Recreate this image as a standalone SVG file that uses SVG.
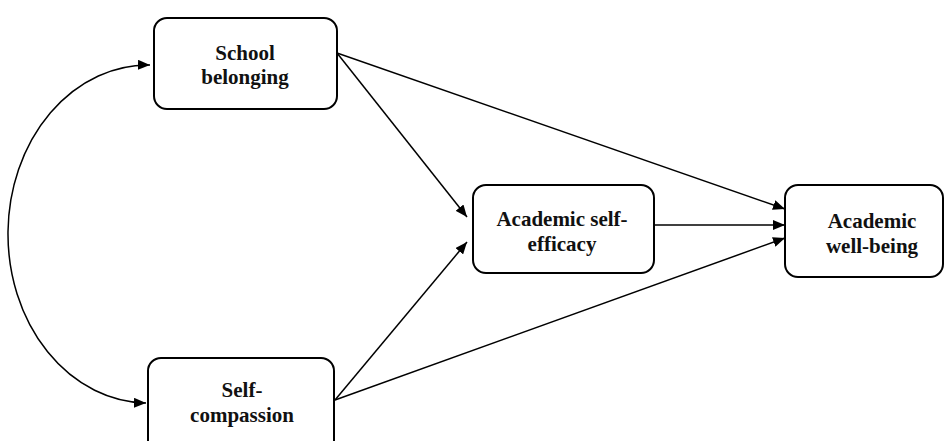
<svg xmlns="http://www.w3.org/2000/svg" width="947" height="441" viewBox="0 0 947 441">
<defs>
<marker id="ah" viewBox="0 0 12 10" refX="12" refY="5" markerWidth="12" markerHeight="10" markerUnits="userSpaceOnUse" orient="auto-start-reverse">
<path d="M0,0 L12,5 L0,10 z" fill="#000"/>
</marker>
<style>
.box{fill:#fff;stroke:#000;stroke-width:2}
.lbl{font-family:"Liberation Serif","Times New Roman",serif;font-weight:bold;font-size:21px;text-anchor:middle;fill:#111}
.edge{fill:none;stroke:#000;stroke-width:1.5;marker-end:url(#ah)}
</style>
</defs>
<rect width="947" height="441" fill="#fff"/>
<g id="connectors">
<path class="edge" d="M150,65 A140,169 0 0 0 146,403" style="marker-start:url(#ah)"/>
<line class="edge" x1="337" y1="53" x2="467" y2="217"/>
<line class="edge" x1="337" y1="53" x2="785" y2="209"/>
<line class="edge" x1="335" y1="400" x2="467" y2="242"/>
<line class="edge" x1="335" y1="400" x2="785" y2="238"/>
<line class="edge" x1="654" y1="225" x2="785" y2="225"/>
</g>
<g id="school-belonging">
<rect class="box" x="154" y="18" width="183" height="91" rx="13"/>
<text class="lbl" x="245" y="60">School</text>
<text class="lbl" x="245" y="84">belonging</text>
</g>
<g id="self-compassion">
<rect class="box" x="148" y="358" width="186" height="100" rx="13"/>
<text class="lbl" x="242" y="397">Self-</text>
<text class="lbl" x="242" y="422">compassion</text>
</g>
<g id="academic-self-efficacy">
<rect class="box" x="473" y="185" width="181" height="88" rx="13"/>
<text class="lbl" x="562" y="226">Academic self-</text>
<text class="lbl" x="562" y="251">efficacy</text>
</g>
<g id="academic-well-being">
<rect class="box" x="785" y="185" width="158" height="92" rx="13"/>
<text class="lbl" x="872" y="228">Academic</text>
<text class="lbl" x="872" y="253">well-being</text>
</g>
</svg>
